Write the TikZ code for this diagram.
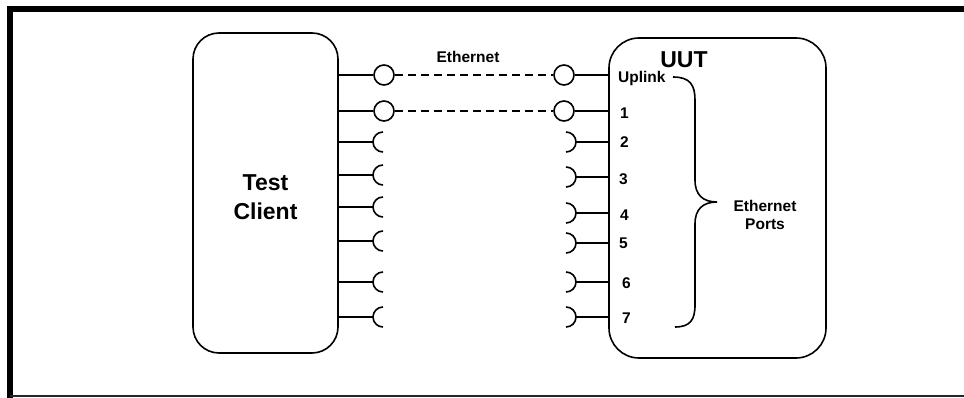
\documentclass[tikz,border=0pt]{standalone}
\usepackage{fontspec}
\setmainfont{Liberation Sans}
\begin{document}
\begin{tikzpicture}[x=1pt,y=-1pt,
  ln/.style={line width=1.6pt},
  box/.style={draw,line width=1.6pt,inner sep=0pt,rounded corners=#1},
  jack/.style={draw,circle,line width=1.6pt,minimum size=20pt,inner sep=0pt},
  cable/.style={line width=1.6pt,dash pattern=on 8pt off 5pt},
  small/.style={font=\bfseries\fontsize{15.5}{18}\selectfont,inner sep=0pt},
  big/.style={font=\bfseries\fontsize{23}{29}\selectfont,inner sep=0pt,align=center}]
\useasboundingbox (0,0) rectangle (964,398);
% outer frame
\draw[line width=6pt] (10,398) -- (10,9) -- (964,9);
\draw[line width=2pt,black!85] (10,396) -- (964,396);
% boxes
\node[box=26pt,minimum width=145pt,minimum height=320pt] (tc) at (265.5,193) {};
\node[box=30pt,minimum width=217pt,minimum height=320pt] (uut) at (717.5,198) {};
\node[big] (tclabel) at (265.5,197) {Test\\Client};
\node[big,anchor=base] (uutlabel) at (684,68) {UUT};
% connected ports
\foreach \i/\y in {0/75,1/111}{
  \coordinate (L\i) at (338,\y);
  \coordinate (R\i) at (609,\y);
  \node[jack] (cl\i) at (384,\y) {};
  \node[jack] (cr\i) at (564,\y) {};
  \draw[ln] (L\i) -- (cl\i);
  \draw[cable] (cl\i) -- (cr\i);
  \draw[ln] (cr\i) -- (R\i);
}
% open sockets, client side
\foreach \i/\y in {2/142,3/175,4/207,5/241,6/282,7/317}{
  \coordinate (L\i) at (338,\y);
  \coordinate (sl\i) at (373,\y);
  \coordinate (slc\i) at (383,\y);
  \draw[ln] (L\i) -- (sl\i);
  \draw[ln] ([yshift=10pt]slc\i) arc[start angle=90,end angle=270,radius=10pt];
}
% open sockets, UUT side
\foreach \i/\y in {2/142,3/177,4/213,5/243,6/282,7/317}{
  \coordinate (R\i) at (609,\y);
  \coordinate (sr\i) at (576,\y);
  \coordinate (src\i) at (566,\y);
  \draw[ln] (sr\i) -- (R\i);
  \draw[ln] ([yshift=10pt]src\i) arc[start angle=90,end angle=-90,radius=10pt];
}
% labels
\node[small,anchor=base] (eth) at (468,63) {Ethernet};
\node[small,anchor=base west] (up) at (618,83) {Uplink};
\foreach \n/\x/\y in {1/620/113,2/620/142,3/619/179,4/620/215,5/619/243,6/622/283,7/622/318}{
  \node[small,anchor=west] (p\n) at (\x,\y) {\n};
}
% brace
\coordinate (bt) at (673,77);
\coordinate (btip) at (717,202);
\coordinate (bb) at (675,327);
\draw[ln] (bt) .. controls (690,77) and (695,85) .. (695,100) -- (695,180)
  .. controls (695,195) and (703,202) .. (btip)
  .. controls (703,202) and (695,209) .. (695,224) -- (695,305)
  .. controls (695,320) and (690,327) .. (bb);
\node[small,align=center] (ports) at (765,215) {Ethernet\\Ports};
\end{tikzpicture}
\end{document}
